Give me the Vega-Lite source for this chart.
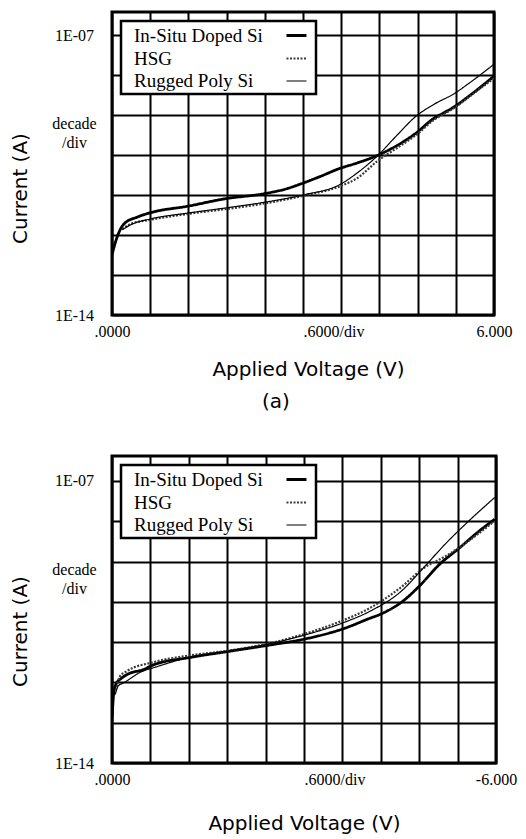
{
  "$schema": "https://vega.github.io/schema/vega-lite/v6.json",
  "padding": {"left": 8, "top": 10, "right": 2, "bottom": 2},
  "columns": 1,
  "spacing": 40,
  "config": {
    "view": {"stroke": "black", "strokeWidth": 3},
    "font": "Liberation Serif",
    "axis": {
      "domain": false, "ticks": false, "grid": true,
      "gridColor": "black", "gridWidth": 2, "gridOpacity": 1,
      "labelFont": "Liberation Serif", "labelFontSize": 16, "labelColor": "black",
      "titleFont": "DejaVu Sans", "titleFontSize": 20, "titleFontWeight": "normal", "titleColor": "black",
      "labelOverlap": false, "labelFlush": false
    },
    "legend": {
      "orient": "top-left", "offset": 9,
      "labelFont": "Liberation Serif", "labelFontSize": 19, "labelColor": "black",
      "strokeColor": "black", "strokeWidth": 2.5, "fillColor": "white",
      "padding": 3, "symbolType": "stroke", "symbolSize": 400,
      "symbolOffset": 161, "labelOffset": -174, "rowPadding": 1
    }
  },
  "datasets": {
    "a": [
      {"series": "In-Situ Doped Si", "V": 0, "I": 3.162e-13},
      {"series": "In-Situ Doped Si", "V": 0.05, "I": 6.31e-13},
      {"series": "In-Situ Doped Si", "V": 0.11, "I": 1.175e-12},
      {"series": "In-Situ Doped Si", "V": 0.19, "I": 1.905e-12},
      {"series": "In-Situ Doped Si", "V": 0.4, "I": 2.818e-12},
      {"series": "In-Situ Doped Si", "V": 0.61, "I": 3.631e-12},
      {"series": "In-Situ Doped Si", "V": 1.19, "I": 5.248e-12},
      {"series": "In-Situ Doped Si", "V": 1.79, "I": 8.128e-12},
      {"series": "In-Situ Doped Si", "V": 2.38, "I": 1.072e-11},
      {"series": "In-Situ Doped Si", "V": 2.75, "I": 1.445e-11},
      {"series": "In-Situ Doped Si", "V": 2.97, "I": 1.905e-11},
      {"series": "In-Situ Doped Si", "V": 3.28, "I": 2.951e-11},
      {"series": "In-Situ Doped Si", "V": 3.57, "I": 4.571e-11},
      {"series": "In-Situ Doped Si", "V": 3.85, "I": 6.31e-11},
      {"series": "In-Situ Doped Si", "V": 4.17, "I": 9.772e-11},
      {"series": "In-Situ Doped Si", "V": 4.48, "I": 1.738e-10},
      {"series": "In-Situ Doped Si", "V": 4.76, "I": 3.388e-10},
      {"series": "In-Situ Doped Si", "V": 5.06, "I": 8.318e-10},
      {"series": "In-Situ Doped Si", "V": 5.23, "I": 1.175e-9},
      {"series": "In-Situ Doped Si", "V": 5.37, "I": 1.585e-9},
      {"series": "In-Situ Doped Si", "V": 5.63, "I": 3.162e-9},
      {"series": "In-Situ Doped Si", "V": 6.0, "I": 9.333e-9},
      {"series": "HSG", "V": 0.16, "I": 1.413e-12},
      {"series": "HSG", "V": 0.3, "I": 1.905e-12},
      {"series": "HSG", "V": 0.6, "I": 2.399e-12},
      {"series": "HSG", "V": 1.2, "I": 3.388e-12},
      {"series": "HSG", "V": 1.8, "I": 4.467e-12},
      {"series": "HSG", "V": 2.4, "I": 6.166e-12},
      {"series": "HSG", "V": 3.0, "I": 9.55e-12},
      {"series": "HSG", "V": 3.6, "I": 1.698e-11},
      {"series": "HSG", "V": 3.85, "I": 2.63e-11},
      {"series": "HSG", "V": 4.17, "I": 7.079e-11},
      {"series": "HSG", "V": 4.48, "I": 1.514e-10},
      {"series": "HSG", "V": 4.76, "I": 3.02e-10},
      {"series": "HSG", "V": 5.06, "I": 7.586e-10},
      {"series": "HSG", "V": 5.37, "I": 1.479e-9},
      {"series": "HSG", "V": 5.63, "I": 3.02e-9},
      {"series": "HSG", "V": 6.0, "I": 8.318e-9},
      {"series": "Rugged Poly Si", "V": 0.16, "I": 1.349e-12},
      {"series": "Rugged Poly Si", "V": 0.3, "I": 1.82e-12},
      {"series": "Rugged Poly Si", "V": 0.6, "I": 2.512e-12},
      {"series": "Rugged Poly Si", "V": 1.2, "I": 3.548e-12},
      {"series": "Rugged Poly Si", "V": 1.8, "I": 4.786e-12},
      {"series": "Rugged Poly Si", "V": 2.4, "I": 6.607e-12},
      {"series": "Rugged Poly Si", "V": 3.0, "I": 1.0e-11},
      {"series": "Rugged Poly Si", "V": 3.6, "I": 1.905e-11},
      {"series": "Rugged Poly Si", "V": 3.85, "I": 3.548e-11},
      {"series": "Rugged Poly Si", "V": 4.17, "I": 9.55e-11},
      {"series": "Rugged Poly Si", "V": 4.48, "I": 3.162e-10},
      {"series": "Rugged Poly Si", "V": 4.76, "I": 8.913e-10},
      {"series": "Rugged Poly Si", "V": 5.06, "I": 1.862e-9},
      {"series": "Rugged Poly Si", "V": 5.37, "I": 3.388e-9},
      {"series": "Rugged Poly Si", "V": 5.63, "I": 6.607e-9},
      {"series": "Rugged Poly Si", "V": 6.0, "I": 1.862e-8}
    ],
    "b": [
      {"series": "In-Situ Doped Si", "V": 0, "I": 1.288e-13},
      {"series": "In-Situ Doped Si", "V": -0.03, "I": 5.888e-13},
      {"series": "In-Situ Doped Si", "V": -0.07, "I": 9.55e-13},
      {"series": "In-Situ Doped Si", "V": -0.145, "I": 1.259e-12},
      {"series": "In-Situ Doped Si", "V": -0.28, "I": 1.698e-12},
      {"series": "In-Situ Doped Si", "V": -0.48, "I": 2.042e-12},
      {"series": "In-Situ Doped Si", "V": -0.64, "I": 2.692e-12},
      {"series": "In-Situ Doped Si", "V": -1.22, "I": 4.169e-12},
      {"series": "In-Situ Doped Si", "V": -1.82, "I": 5.888e-12},
      {"series": "In-Situ Doped Si", "V": -2.43, "I": 8.318e-12},
      {"series": "In-Situ Doped Si", "V": -3.02, "I": 1.202e-11},
      {"series": "In-Situ Doped Si", "V": -3.61, "I": 2.138e-11},
      {"series": "In-Situ Doped Si", "V": -4.01, "I": 3.802e-11},
      {"series": "In-Situ Doped Si", "V": -4.22, "I": 5.129e-11},
      {"series": "In-Situ Doped Si", "V": -4.53, "I": 1.0e-10},
      {"series": "In-Situ Doped Si", "V": -4.82, "I": 2.63e-10},
      {"series": "In-Situ Doped Si", "V": -5.11, "I": 8.318e-10},
      {"series": "In-Situ Doped Si", "V": -5.43, "I": 2.188e-9},
      {"series": "In-Situ Doped Si", "V": -5.74, "I": 5.754e-9},
      {"series": "In-Situ Doped Si", "V": -5.98, "I": 1.122e-8},
      {"series": "HSG", "V": -0.06, "I": 6.31e-13},
      {"series": "HSG", "V": -0.12, "I": 1.38e-12},
      {"series": "HSG", "V": -0.22, "I": 1.862e-12},
      {"series": "HSG", "V": -0.64, "I": 3.162e-12},
      {"series": "HSG", "V": -1.22, "I": 4.677e-12},
      {"series": "HSG", "V": -1.82, "I": 6.166e-12},
      {"series": "HSG", "V": -2.43, "I": 9.12e-12},
      {"series": "HSG", "V": -3.02, "I": 1.622e-11},
      {"series": "HSG", "V": -3.61, "I": 3.467e-11},
      {"series": "HSG", "V": -4.01, "I": 6.761e-11},
      {"series": "HSG", "V": -4.53, "I": 2.399e-10},
      {"series": "HSG", "V": -4.87, "I": 6.918e-10},
      {"series": "HSG", "V": -5.21, "I": 1.349e-9},
      {"series": "HSG", "V": -5.57, "I": 3.236e-9},
      {"series": "HSG", "V": -5.98, "I": 1.023e-8},
      {"series": "Rugged Poly Si", "V": -0.05, "I": 5.012e-13},
      {"series": "Rugged Poly Si", "V": -0.1, "I": 8.318e-13},
      {"series": "Rugged Poly Si", "V": -0.17, "I": 9.55e-13},
      {"series": "Rugged Poly Si", "V": -0.48, "I": 1.905e-12},
      {"series": "Rugged Poly Si", "V": -0.64, "I": 2.291e-12},
      {"series": "Rugged Poly Si", "V": -1.22, "I": 4.266e-12},
      {"series": "Rugged Poly Si", "V": -1.82, "I": 6.026e-12},
      {"series": "Rugged Poly Si", "V": -2.43, "I": 8.913e-12},
      {"series": "Rugged Poly Si", "V": -3.02, "I": 1.514e-11},
      {"series": "Rugged Poly Si", "V": -3.61, "I": 3.02e-11},
      {"series": "Rugged Poly Si", "V": -4.01, "I": 5.623e-11},
      {"series": "Rugged Poly Si", "V": -4.53, "I": 1.905e-10},
      {"series": "Rugged Poly Si", "V": -4.87, "I": 7.079e-10},
      {"series": "Rugged Poly Si", "V": -5.21, "I": 2.754e-9},
      {"series": "Rugged Poly Si", "V": -5.57, "I": 1.0e-8},
      {"series": "Rugged Poly Si", "V": -5.98, "I": 3.89e-8}
    ]
  },
  "concat": [
    {
      "width": 382, "height": 303,
      "title": {"text": "(a)", "orient": "bottom", "anchor": "middle", "dx": -27, "offset": 13, "font": "DejaVu Sans", "fontSize": 20, "fontWeight": "normal", "color": "black"},
      "data": {"name": "a"},
      "mark": {"type": "line", "interpolate": "monotone", "clip": true},
      "encoding": {
        "x": {"field": "V", "type": "quantitative",
          "scale": {"domain": [0, 6], "nice": false, "zero": false},
          "axis": {"values": [0, 0.6, 1.2, 1.8, 2.4, 3, 3.6, 4.2, 4.8, 5.4, 6],
            "labelExpr": "datum.value == 0 ? '.0000' : (datum.value == 3 ? '.6000/div' : (datum.value == 6 ? '6.000' : ''))",
            "labelAlign": {"condition": {"test": "datum.value == 3", "value": "left"}, "value": "center"},
            "labelPadding": 8, "title": "Applied Voltage (V)", "titleX": 196, "titleY": 44}},
        "y": {"field": "I", "type": "quantitative",
          "scale": {"type": "log", "domain": [1e-14, 3.76e-7], "nice": false},
          "axis": {"values": [1e-14, 1e-13, 1e-12, 1e-11, 1e-10, 1e-9, 1e-8, 1e-7],
            "labelExpr": "datum.value < 2e-14 ? '1E-14' : (datum.value > 5e-8 ? '1E-07' : ((datum.value > 5e-10 && datum.value < 2e-9) ? ['decade', '/div'] : ''))",
            "labelAlign": "center",
            "labelBaseline": {"condition": {"test": "datum.value > 5e-10 && datum.value < 2e-9", "value": "top"}, "value": "middle"},
            "labelLineHeight": 19, "labelPadding": 38,
            "title": "Current (A)", "titleX": -92, "titleY": 176, "titleBaseline": "middle"}},
        "color": {"field": "series", "type": "nominal",
          "scale": {"domain": ["In-Situ Doped Si", "HSG", "Rugged Poly Si"], "range": ["black", "#3a3a3a", "black"]},
          "legend": {"title": null}},
        "strokeDash": {"field": "series", "type": "nominal",
          "scale": {"domain": ["In-Situ Doped Si", "HSG", "Rugged Poly Si"], "range": [[1, 0], [2, 1.5], [1, 0]]},
          "legend": {"title": null}},
        "strokeWidth": {"field": "series", "type": "nominal",
          "scale": {"type": "ordinal", "domain": ["In-Situ Doped Si", "HSG", "Rugged Poly Si"], "range": [2.8, 2.2, 1.2]},
          "legend": {"title": null}}
      }
    },
    {
      "width": 384, "height": 307,
      "data": {"name": "b"},
      "mark": {"type": "line", "interpolate": "monotone", "clip": true},
      "encoding": {
        "x": {"field": "V", "type": "quantitative",
          "scale": {"domain": [0, -6], "nice": false, "zero": false},
          "axis": {"values": [0, -0.6, -1.2, -1.8, -2.4, -3, -3.6, -4.2, -4.8, -5.4, -6],
            "labelExpr": "datum.value == 0 ? '.0000' : (datum.value == -3 ? '.6000/div' : (datum.value == -6 ? '-6.000' : ''))",
            "labelAlign": {"condition": {"test": "datum.value == -3", "value": "left"}, "value": "center"},
            "labelPadding": 8, "title": "Applied Voltage (V)", "titleY": 50}},
        "y": {"field": "I", "type": "quantitative",
          "scale": {"type": "log", "domain": [1e-14, 4.17e-7], "nice": false},
          "axis": {"values": [1e-14, 1e-13, 1e-12, 1e-11, 1e-10, 1e-9, 1e-8, 1e-7],
            "labelExpr": "datum.value < 2e-14 ? '1E-14' : (datum.value > 5e-8 ? '1E-07' : ((datum.value > 5e-10 && datum.value < 2e-9) ? ['decade', '/div'] : ''))",
            "labelAlign": "center",
            "labelBaseline": {"condition": {"test": "datum.value > 5e-10 && datum.value < 2e-9", "value": "top"}, "value": "middle"},
            "labelLineHeight": 19, "labelPadding": 38,
            "title": "Current (A)", "titleX": -92, "titleY": 175, "titleBaseline": "middle"}},
        "color": {"field": "series", "type": "nominal",
          "scale": {"domain": ["In-Situ Doped Si", "HSG", "Rugged Poly Si"], "range": ["black", "#3a3a3a", "black"]},
          "legend": {"title": null}},
        "strokeDash": {"field": "series", "type": "nominal",
          "scale": {"domain": ["In-Situ Doped Si", "HSG", "Rugged Poly Si"], "range": [[1, 0], [2, 1.5], [1, 0]]},
          "legend": {"title": null}},
        "strokeWidth": {"field": "series", "type": "nominal",
          "scale": {"type": "ordinal", "domain": ["In-Situ Doped Si", "HSG", "Rugged Poly Si"], "range": [2.8, 2.2, 1.2]},
          "legend": {"title": null}}
      }
    }
  ],
  "resolve": {"scale": {"x": "independent", "y": "independent", "color": "independent", "strokeDash": "independent", "strokeWidth": "independent"}, "legend": {"color": "independent", "strokeDash": "independent", "strokeWidth": "independent"}}
}
